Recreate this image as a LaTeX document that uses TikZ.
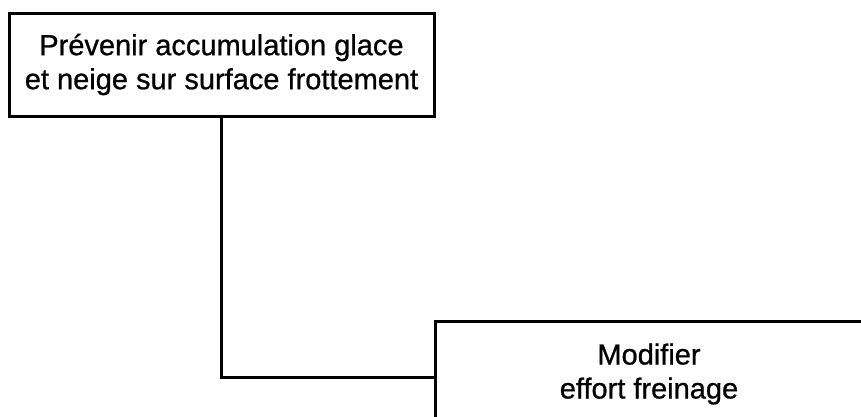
\documentclass[tikz,border=0pt]{standalone}
\usepackage{fontspec}
\setmainfont[FakeBold=0.8,AutoFakeBold=false]{Liberation Sans}
\newfontfamily\boxfont[FakeBold=0.8]{Liberation Sans}
\begin{document}
\begin{tikzpicture}[x=1pt,y=-1pt,
  box/.style={draw=black, line width=3pt, align=center, inner sep=0pt,
    font=\boxfont\fontsize{29}{34}\selectfont},
  conn/.style={draw=black, line width=3pt}]
\useasboundingbox (0,0) rectangle (861,416);
\node[box, minimum width=425pt, minimum height=103pt] (b1) at (221.5,64.5)
  {Prévenir accumulation glace\\et neige sur surface frottement};
\node[box, minimum width=428pt, minimum height=106pt] (b2) at (649,374)
  {Modifier\\effort freinage};
\draw[conn] (b1.south) |- ([yshift=-3pt]b2.west);
\end{tikzpicture}
\end{document}
